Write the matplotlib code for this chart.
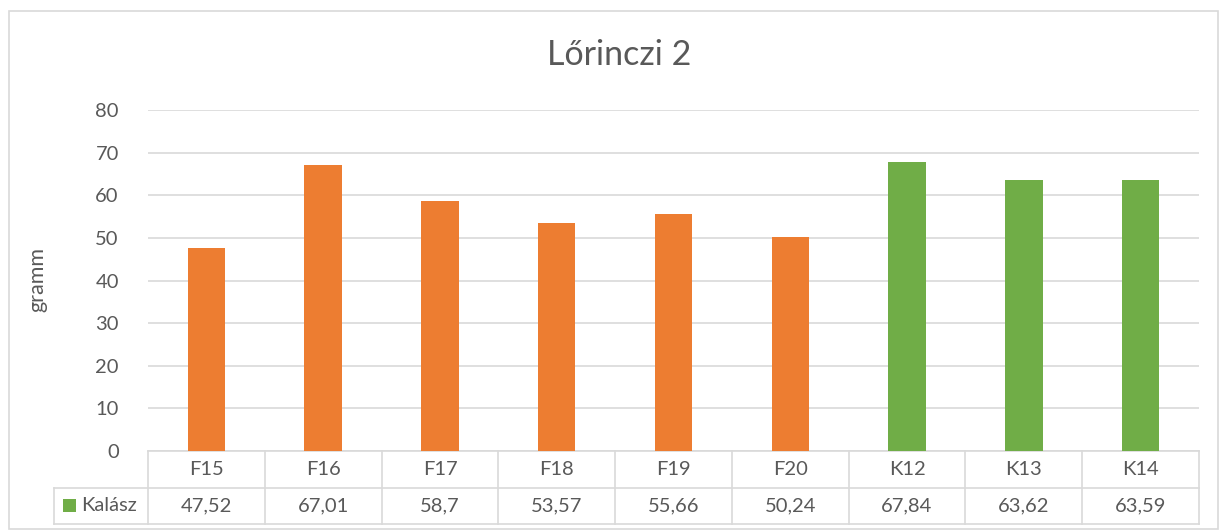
import matplotlib
matplotlib.use("Agg")
import matplotlib.pyplot as plt
from matplotlib.patches import Rectangle
from matplotlib.transforms import blended_transform_factory

plt.rcParams['font.family'] = ['Lato', 'DejaVu Sans']

categories = ["F15", "F16", "F17", "F18", "F19", "F20", "K12", "K13", "K14"]
values = [47.52, 67.01, 58.7, 53.57, 55.66, 50.24, 67.84, 63.62, 63.59]
value_labels = ["47,52", "67,01", "58,7", "53,57", "55,66", "50,24", "67,84", "63,62", "63,59"]
series_name = "Kalász"
title = "Lőrinczi 2"
y_label = "gramm"
y_ticks = [0, 10, 20, 30, 40, 50, 60, 70, 80]

ORANGE = "#ED7D31"
GREEN = "#70AD47"
TEXT = "#595959"
GRID = "#D9D9D9"

bar_colors = [GREEN if c.startswith("K") else ORANGE for c in categories]

W, H = 1227, 532
fig = plt.figure(figsize=(W / 100, H / 100), dpi=100)

# outer chart frame
fig.patches.append(Rectangle((9 / W, 1 - 529 / H), (1218 - 9) / W, (529 - 11) / H,
                             transform=fig.transFigure, fill=False,
                             edgecolor=GRID, linewidth=1.2))

left, right, top, bottom = 148, 1199, 110, 451
ax = fig.add_axes([left / W, 1 - bottom / H, (right - left) / W, (bottom - top) / H])

x = list(range(len(categories)))
ax.bar(x, values, width=0.32, color=bar_colors, zorder=3)
ax.set_xlim(-0.5, len(categories) - 0.5)
ax.set_ylim(0, 80)
ax.set_yticks(y_ticks)
ax.yaxis.grid(True, color=GRID, linewidth=1.2, zorder=0)
ax.set_xticks([])
ax.tick_params(axis='y', length=0, pad=21, labelsize=14.5, labelcolor=TEXT)
for s in ax.spines.values():
    s.set_visible(False)

fig.text(619 / W, 1 - 55 / H, title, ha='center', va='center', fontsize=24.5, color=TEXT)
fig.text(37 / W, 1 - 280 / H, y_label, ha='center', va='center', rotation=90,
         fontsize=15.5, color=TEXT)

# data table beneath the plot
row_h = 36.5 / (bottom - top)  # in axes fraction
tr = blended_transform_factory(ax.transData, ax.transAxes)
lw = 1.2
n = len(categories)
ax.plot([-0.5, n - 0.5], [0, 0], transform=tr, color=GRID, lw=lw, clip_on=False)
legend_left = -0.5 - (left - 54) / ((right - left) / n)
ax.plot([legend_left, n - 0.5], [-row_h, -row_h], transform=tr, color=GRID, lw=lw, clip_on=False)
ax.plot([legend_left, n - 0.5], [-2 * row_h, -2 * row_h], transform=tr, color=GRID, lw=lw, clip_on=False)
ax.plot([legend_left, legend_left], [-row_h, -2 * row_h], transform=tr, color=GRID, lw=lw, clip_on=False)
for i in range(n + 1):
    ax.plot([i - 0.5, i - 0.5], [0, -2 * row_h], transform=tr, color=GRID, lw=lw, clip_on=False)
for i, (c, v) in enumerate(zip(categories, value_labels)):
    ax.text(i, -0.5 * row_h, c, transform=tr, ha='center', va='center', fontsize=14.5, color=TEXT)
    ax.text(i, -1.5 * row_h, v, transform=tr, ha='center', va='center', fontsize=14.5, color=TEXT)

# legend key inside the table
cell_w = (right - left) / n
mx = legend_left + (63 - 54) / cell_w
ax.add_patch(Rectangle((mx, -1.5 * row_h - 0.019), 13 / cell_w, 0.038, transform=tr,
                       facecolor=GREEN, edgecolor='none', clip_on=False))
ax.text(mx + 18 / cell_w, -1.5 * row_h, series_name, transform=tr, ha='left', va='center',
        fontsize=14.5, color=TEXT)

fig.savefig("out.png", dpi=100)
